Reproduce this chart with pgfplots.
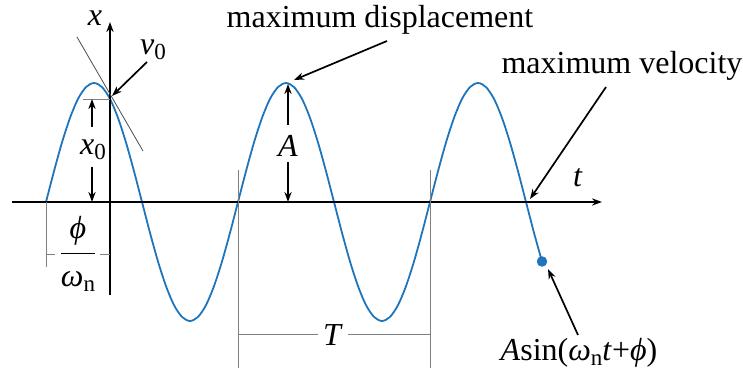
\documentclass[border=0pt]{standalone}
\usepackage{pgfplots}
\pgfplotsset{compat=1.18}
\usepackage{amsmath}
\usepackage{fontspec}
\setmainfont{Liberation Serif}
\usetikzlibrary{arrows.meta}

\definecolor{curve}{RGB}{31,117,187}
\newcommand{\sub}[1]{\raisebox{-0.35ex}{\fontsize{11.5}{12}\selectfont #1}}

\begin{document}
\begin{tikzpicture}[font=\fontsize{16}{19}\selectfont,
    arr/.style={-{Stealth[length=5pt,width=3.6pt]}, line width=0.85pt},
    dim/.style={gray, line width=0.45pt}]
\begin{axis}[
    name=ax,
    scale only axis,
    width=371.5pt, height=184pt,
    xmin=-110, xmax=633,
    ymin=-166, ymax=202,
    axis lines=none,
    ticks=none,
    clip=false,
]
% x(t) = A sin(w t + phi)
\addplot[curve, line width=0.9pt, smooth] coordinates {
    (-64,0) (-56,30.8) (-48,59.5) (-40,84.1) (-32,103.1) (-24,114.9)
    (-16,119) (-8,114.9) (0,103.1) (8,84.1) (16,59.5) (24,30.8)
    (32,0) (40,-30.8) (48,-59.5) (56,-84.1) (64,-103.1) (72,-114.9)
    (80,-119) (88,-114.9) (96,-103.1) (104,-84.1) (112,-59.5) (120,-30.8)
    (128,0) (136,30.8) (144,59.5) (152,84.1) (160,103.1) (168,114.9)
    (176,119) (184,114.9) (192,103.1) (200,84.1) (208,59.5) (216,30.8)
    (224,0) (232,-30.8) (240,-59.5) (248,-84.1) (256,-103.1) (264,-114.9)
    (272,-119) (280,-114.9) (288,-103.1) (296,-84.1) (304,-59.5) (312,-30.8)
    (320,0) (328,30.8) (336,59.5) (344,84.1) (352,103.1) (360,114.9)
    (368,119) (376,114.9) (384,103.1) (392,84.1) (400,59.5) (408,30.8)
    (416,0) (424,-30.8) (432,-59.5)
};
\addplot[curve, only marks, mark=*, mark size=2.4pt] coordinates {(432,-59.5)};

% axes
\draw[arr] (axis cs:-98,0) -- (axis cs:492,0);
\draw[arr] (axis cs:0,-93) -- (axis cs:0,180);
\node at (axis cs:-15,184) {\textit{x}};
\node at (axis cs:468,24) {\textit{t}};

% tangent and v0
\draw[black!70, line width=0.4pt] (axis cs:-33,165) -- (axis cs:33,51);
\draw[arr] (axis cs:37,140) -- (axis cs:2,106);
\node at (axis cs:43,152) {\textit{v}\sub{0}};

% x0
\draw[dim] (axis cs:-27,103) -- (axis cs:0,103);
\draw[arr] (axis cs:-18,75) -- (axis cs:-18,103);
\draw[arr] (axis cs:-18,35) -- (axis cs:-18,0);
\node at (axis cs:-17,52) {\textit{x}\sub{0}};

% phi / omega_n
\draw[dim] (axis cs:-64,0) -- (axis cs:-64,-65);
\draw[dim] (axis cs:-64,-52) -- (axis cs:-55,-52);
\draw[dim] (axis cs:-10,-52) -- (axis cs:0,-52);
\node at (axis cs:-32,-52) {$\dfrac{\mbox{\textit{ϕ}}}{\mbox{\textit{ω}\sub{n}}}$};

% amplitude
\draw[arr] (axis cs:178,77) -- (axis cs:178,118);
\draw[arr] (axis cs:178,40) -- (axis cs:178,0);
\node at (axis cs:178,56) {\textit{A}};
\node at (axis cs:270,182) {maximum displacement};
\draw[arr] (axis cs:277,161) -- (axis cs:184,122);

% period
\draw[dim] (axis cs:128,32) -- (axis cs:128,-166);
\draw[dim] (axis cs:320,32) -- (axis cs:320,-166);
\draw[dim] (axis cs:128,-132) -- (axis cs:208,-132);
\draw[dim] (axis cs:238,-132) -- (axis cs:320,-132);
\node at (axis cs:223,-133) {\textit{T}};

% maximum velocity
\node at (axis cs:512,136) {maximum velocity};
\draw[arr] (axis cs:496,115) -- (axis cs:420,3);

% end point
\draw[arr] (axis cs:468,-133) -- (axis cs:438,-67);
\node at (axis cs:469,-151) {\textit{A}sin(\textit{ω}\sub{n}\textit{t}+\textit{ϕ})};
\end{axis}
\pgfresetboundingbox
\path[use as bounding box] (ax.south west) rectangle (ax.north east);
\end{tikzpicture}
\end{document}
